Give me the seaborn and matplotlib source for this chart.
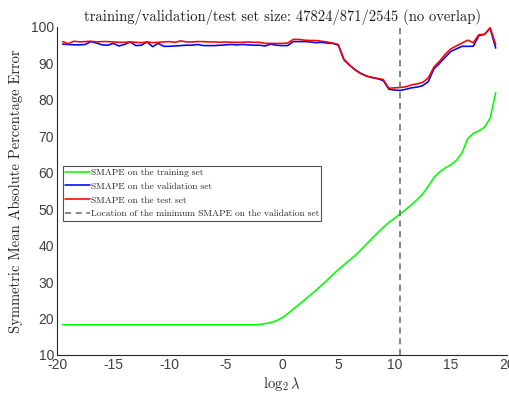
import numpy as np
import pandas as pd
import matplotlib
matplotlib.use("Agg")
import matplotlib.pyplot as plt
import seaborn as sns

log2_lambda = [-19.5, -19.0, -18.5, -18.0, -17.5, -17.0, -16.5, -16.0, -15.5, -15.0,
               -14.5, -14.0, -13.5, -13.0, -12.5, -12.0, -11.5, -11.0, -10.5, -10.0,
               -9.5, -9.0, -8.5, -8.0, -7.5, -7.0, -6.5, -6.0, -5.5, -5.0,
               -4.5, -4.0, -3.5, -3.0, -2.5, -2.0, -1.5, -1.0, -0.5, 0.0,
               0.5, 1.0, 1.5, 2.0, 2.5, 3.0, 3.5, 4.0, 4.5, 5.0,
               5.5, 6.0, 6.5, 7.0, 7.5, 8.0, 8.5, 9.0, 9.5, 10.0,
               10.5, 11.0, 11.5, 12.0, 12.5, 13.0, 13.5, 14.0, 14.5, 15.0,
               15.5, 16.0, 16.5, 17.0, 17.5, 18.0, 18.5, 19.0]

smape_train = [18.3, 18.3, 18.3, 18.3, 18.3, 18.3, 18.3, 18.3, 18.3, 18.3,
               18.3, 18.3, 18.3, 18.3, 18.3, 18.3, 18.3, 18.3, 18.3, 18.3,
               18.3, 18.3, 18.3, 18.3, 18.3, 18.3, 18.3, 18.3, 18.3, 18.3,
               18.3, 18.3, 18.3, 18.3, 18.3, 18.4, 18.6, 18.9, 19.4, 20.2,
               21.3, 22.6, 23.8, 25.1, 26.4, 27.7, 29.1, 30.5, 32.0, 33.4,
               34.7, 36.0, 37.3, 38.8, 40.4, 42.0, 43.5, 45.0, 46.4, 47.5,
               48.7, 49.9, 51.2, 52.6, 54.2, 56.3, 58.7, 60.2, 61.3, 62.2,
               63.4, 65.5, 69.3, 70.8, 71.5, 72.5, 75.0, 82.0]

smape_val = [95.3, 95.2, 95.1, 95.1, 95.2, 96.0, 95.6, 95.1, 95.0, 95.5,
             94.8, 95.2, 95.9, 94.9, 95.0, 95.9, 94.6, 95.5, 94.7, 94.7,
             94.8, 94.9, 95.0, 95.0, 95.2, 94.9, 94.9, 94.9, 95.0, 95.1,
             95.2, 95.1, 95.2, 95.1, 95.0, 95.0, 94.8, 95.3, 95.0, 94.9,
             94.9, 96.0, 96.0, 96.0, 95.9, 95.7, 95.8, 95.6, 95.5, 95.0,
             91.0, 89.5, 88.3, 87.3, 86.6, 86.1, 85.8, 85.3, 82.9, 82.7,
             82.6, 82.9, 83.3, 83.5, 83.9, 85.0, 88.5, 90.0, 91.7, 93.3,
             94.0, 94.7, 94.7, 94.7, 97.6, 98.0, 99.6, 94.2]

smape_test = [96.0, 95.4, 96.1, 95.9, 96.0, 96.1, 95.9, 96.0, 96.0, 95.9,
              95.8, 95.8, 95.9, 95.8, 95.7, 95.9, 95.7, 95.8, 95.9, 96.0,
              95.8, 96.2, 95.9, 95.9, 96.0, 96.0, 95.9, 95.9, 95.8, 95.9,
              95.8, 95.8, 95.8, 95.9, 95.8, 95.8, 95.5, 95.5, 95.5, 95.5,
              95.6, 96.6, 96.6, 96.4, 96.3, 96.3, 96.1, 95.9, 95.6, 95.2,
              91.2, 89.6, 88.2, 87.2, 86.5, 86.2, 85.9, 85.6, 83.2, 83.3,
              83.4, 83.6, 84.1, 84.4, 84.8, 86.0, 89.0, 90.6, 92.5, 94.0,
              94.8, 95.6, 96.4, 95.7, 97.9, 98.0, 99.8, 95.2]

best_log2_lambda = 10.5

title_text = "training/validation/test set size: 47824/871/2545 (no overlap)"
labels = ["SMAPE on the training set",
          "SMAPE on the validation set",
          "SMAPE on the test set",
          "Location of the minimum SMAPE on the validation set"]

sns.set_theme(style="white")
plt.rcParams["font.family"] = ["Liberation Sans", "DejaVu Sans"]
plt.rcParams["mathtext.fontset"] = "cm"
plt.rcParams["axes.unicode_minus"] = False

serif = ["cmr10", "DejaVu Serif"]

fig = plt.figure(figsize=(5.09, 3.94), dpi=100)
ax = fig.add_axes([57 / 509, 1 - 355 / 394, 450 / 509, 328 / 394])

df = pd.DataFrame({"x": log2_lambda, "train": smape_train,
                   "val": smape_val, "test": smape_test})

sns.lineplot(data=df, x="x", y="train", ax=ax, color=(0, 1, 0), lw=1.15, label=labels[0])
sns.lineplot(data=df, x="x", y="val", ax=ax, color=(0, 0, 1), lw=1.15, label=labels[1])
sns.lineplot(data=df, x="x", y="test", ax=ax, color=(1, 0, 0), lw=1.15, label=labels[2])
ax.axvline(best_log2_lambda, color=(0.4, 0.4, 0.4), ls=(0, (4, 3)), lw=1.1, label=labels[3])

ax.set_xlim(-20, 20)
ax.set_ylim(10, 100)
ax.set_xticks(range(-20, 21, 5))
ax.set_yticks(range(10, 101, 10))
ax.tick_params(direction="in", length=3.5, width=0.7, colors=(0.15, 0.15, 0.15),
               labelsize=10, pad=2)
ax.tick_params(labelcolor=(0.25, 0.25, 0.25))
for s in ["top", "right"]:
    ax.spines[s].set_visible(False)
for s in ["left", "bottom"]:
    ax.spines[s].set_color((0.15, 0.15, 0.15))
    ax.spines[s].set_linewidth(0.8)

ax.set_title(title_text, fontsize=10.5, family=serif, pad=4, color=(0.1, 0.1, 0.1))
ax.set_xlabel(r"$\log_2\lambda$", fontsize=10.5, labelpad=2, color=(0.15, 0.15, 0.15))
ax.set_ylabel("Symmetric Mean Absolute Percentage Error", fontsize=10.5, family=serif,
              labelpad=6, color=(0.15, 0.15, 0.15))

leg = ax.legend(loc="upper left", bbox_to_anchor=(63 / 509, 1 - 166 / 394),
                bbox_transform=fig.transFigure, prop={"family": serif, "size": 6.8},
                frameon=True, fancybox=False, handlelength=2.6, handletextpad=0.1,
                borderpad=0.25, labelspacing=0.55, borderaxespad=0)
leg.get_frame().set_edgecolor((0.15, 0.15, 0.15))
leg.get_frame().set_linewidth(0.8)

fig.savefig("out.png", dpi=100)
